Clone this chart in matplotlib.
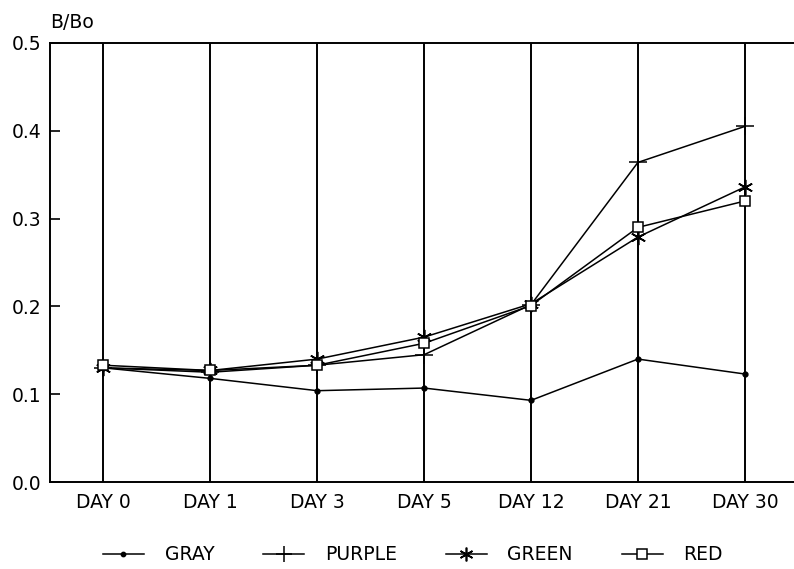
import matplotlib.pyplot as plt
import numpy as np

plt.rcParams['font.family'] = ['DejaVu Sans']

days = ['DAY 0', 'DAY 1', 'DAY 3', 'DAY 5', 'DAY 12', 'DAY 21', 'DAY 30']

gray = [0.130, 0.118, 0.104, 0.107, 0.093, 0.140, 0.123]
purple = [0.130, 0.125, 0.133, 0.145, 0.202, 0.364, 0.405]
green = [0.130, 0.127, 0.140, 0.165, 0.203, 0.279, 0.336]
red = [0.133, 0.127, 0.133, 0.158, 0.201, 0.290, 0.320]

x = np.arange(len(days))

fig = plt.figure(figsize=(7.94, 5.69), dpi=100)
ax = fig.add_axes([50 / 794, 87 / 569, 1 - 50 / 794, 439 / 569])

# vertical lines at each day
for xi in x:
    ax.axvline(xi, color='black', linewidth=1.4, zorder=1)

ax.plot(x, gray, color='black', linewidth=1.1, marker='o', markersize=3.5, label='GRAY', zorder=3)
ax.plot(x, purple, color='black', linewidth=1.1, marker='+', markersize=13, markeredgewidth=1.1,
        label='PURPLE', zorder=3)
ax.plot(x, green, color='black', linewidth=1.1, marker=(6, 2, 0), markersize=11, markeredgewidth=1.2,
        label='GREEN', zorder=3)
ax.plot(x, red, color='black', linewidth=1.1, marker='s', markersize=7.5, markerfacecolor='white',
        markeredgewidth=1.1, label='RED', zorder=4)

ax.set_xlim(-0.5, 6.46)
ax.set_ylim(0, 0.5)
ax.set_xticks(x)
ax.set_xticklabels(days, fontsize=13.5)
ax.set_yticks([0.0, 0.1, 0.2, 0.3, 0.4, 0.5])
ax.set_yticklabels(['0.0', '0.1', '0.2', '0.3', '0.4', '0.5'], fontsize=13.5)
ax.tick_params(axis='x', length=0, pad=8)
ax.tick_params(axis='y', direction='in', length=7, width=1.2, pad=6)
ax.spines['right'].set_visible(False)
for s in ['left', 'top', 'bottom']:
    ax.spines[s].set_linewidth(1.4)

ax.text(0.0, 1.025, 'B/Bo', transform=ax.transAxes, fontsize=13.5, ha='left', va='bottom')

fig.legend(loc='center', bbox_to_anchor=(0.52, 0.025), ncol=4, frameon=False, fontsize=13.5,
           handlelength=2.2, columnspacing=2.6, handletextpad=1.1, markerscale=0.9)

fig.savefig('out.png', dpi=100)
